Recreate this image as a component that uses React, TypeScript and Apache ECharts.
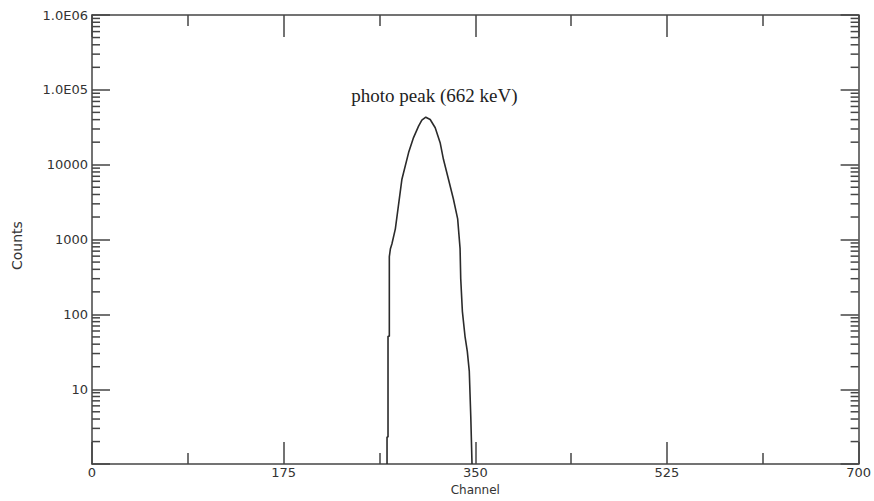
import { useEffect, useRef } from 'react';
import * as echarts from 'echarts';

// Spectrum trace (channel, counts)
const channels = [269.4, 269.4, 270.3, 270.3, 271.5, 271.5, 272.5, 273.9, 277.0, 283.0, 289.1, 293.6, 298.2, 301.2, 304.8, 308.8, 313.4, 317.9, 320.9, 325.5, 330.0, 333.9, 336.1, 336.7, 338.2, 340.6, 342.7, 344.5, 345.9, 347.0];
const counts = [1, 2.3, 2.3, 51, 51, 590, 755, 880, 1390, 6400, 14500, 23000, 32700, 39300, 43100, 40200, 31200, 19700, 11800, 6400, 3480, 1890, 755, 300, 110, 51, 32, 17.5, 4.2, 1];

const xTickValues = [0, 175, 350, 525, 700];
const yTickValues = [1, 10, 100, 1000, 10000, 100000, 1000000];
const yTickLabels = ['', '10', '100', '1000', '10000', '1.0E05', '1.0E06'];
const minorMultipliers = [2, 3, 4, 5, 6, 7, 8, 9];

const annotationText = 'photo peak (662 keV)';
const annotationAt = [312.7, 83700];

const AXIS_COLOR = '#454545';
const TEXT_COLOR = '#333';
const SANS = 'DejaVu Sans';

export default function App() {
  const ref = useRef<HTMLDivElement>(null);
  useEffect(() => {
    document.body.style.margin = '0';
    const chart = echarts.init(ref.current!, null, { renderer: 'svg' });
    const data = channels.map((c, i) => [c, counts[i]]);
    const xMin = xTickValues[0];
    const xMax = xTickValues[xTickValues.length - 1];
    const minorData: number[][] = [];
    yTickValues.slice(0, -1).forEach((d) => {
      minorMultipliers.forEach((m) => minorData.push([xMin, d * m]));
    });
    const yLabel = (v: number) => {
      const idx = yTickValues.findIndex((t) => Math.abs(Math.log10(t) - Math.log10(v)) < 1e-6);
      return idx >= 0 ? yTickLabels[idx] : '';
    };
    const axisLine = { show: true, onZero: false, lineStyle: { color: AXIS_COLOR, width: 1.5 } };
    const xBase = {
      type: 'value' as const,
      min: xMin,
      max: xMax,
      interval: xTickValues[1] - xTickValues[0],
      axisLine,
      axisTick: { show: true, inside: true, length: 22, lineStyle: { color: AXIS_COLOR, width: 1.5 } },
      minorTick: { show: true, splitNumber: 2, length: 11, lineStyle: { color: AXIS_COLOR, width: 1.5 } },
      splitLine: { show: false },
    };
    const yBase = {
      type: 'log' as const,
      logBase: 10,
      min: yTickValues[0],
      max: yTickValues[yTickValues.length - 1],
      splitNumber: 6,
      axisLine,
      axisTick: { show: true, inside: true, length: 18, lineStyle: { color: AXIS_COLOR, width: 1.5 } },
      minorTick: { show: false },
      splitLine: { show: false },
    };
    const tickStyle = { stroke: AXIS_COLOR, lineWidth: 1.5 };
    chart.setOption({
      animation: false,
      backgroundColor: '#fff',
      grid: { left: 92, right: 12, top: 15, bottom: 34 },
      xAxis: [
        {
          ...xBase,
          position: 'bottom',
          name: 'Channel',
          nameLocation: 'middle',
          nameGap: 18,
          nameTextStyle: { fontFamily: SANS, fontSize: 12, color: TEXT_COLOR },
          axisLabel: { show: true, margin: 2, fontFamily: SANS, fontSize: 13, color: TEXT_COLOR },
        },
        { ...xBase, position: 'top', axisLabel: { show: false } },
      ],
      yAxis: [
        {
          ...yBase,
          position: 'left',
          name: 'Counts',
          nameLocation: 'middle',
          nameGap: 68,
          nameTextStyle: { fontFamily: SANS, fontSize: 14, color: TEXT_COLOR, padding: [0, 12, 0, 0] },
          axisLabel: { show: true, margin: 4, fontFamily: SANS, fontSize: 13, color: TEXT_COLOR, formatter: yLabel },
        },
        { ...yBase, position: 'right', axisLabel: { show: false } },
      ],
      series: [
        {
          type: 'custom',
          xAxisIndex: 0,
          yAxisIndex: 0,
          clip: false,
          silent: true,
          data: minorData,
          renderItem: (_params: any, api: any) => {
            const v = api.value(1);
            const pl = api.coord([xMin, v]);
            const pr = api.coord([xMax, v]);
            return {
              type: 'group',
              children: [
                { type: 'line', shape: { x1: pl[0], y1: pl[1], x2: pl[0] + 8, y2: pl[1] }, style: tickStyle },
                { type: 'line', shape: { x1: pr[0] - 8, y1: pr[1], x2: pr[0], y2: pr[1] }, style: tickStyle },
              ],
            };
          },
        },
        {
          type: 'line',
          data,
          xAxisIndex: 0,
          yAxisIndex: 0,
          showSymbol: false,
          symbol: 'none',
          lineStyle: { color: '#2b2b2b', width: 1.6 },
          markPoint: {
            symbol: 'circle',
            symbolSize: 0,
            data: [{ coord: annotationAt, value: annotationText }],
            label: {
              show: true,
              position: 'inside',
              formatter: annotationText,
              fontFamily: 'Liberation Serif',
              fontSize: 19,
              color: '#222',
            },
          },
        },
      ],
    });
    return () => chart.dispose();
  }, []);
  return <div ref={ref} style={{ width: 874, height: 501 }} />;
}
